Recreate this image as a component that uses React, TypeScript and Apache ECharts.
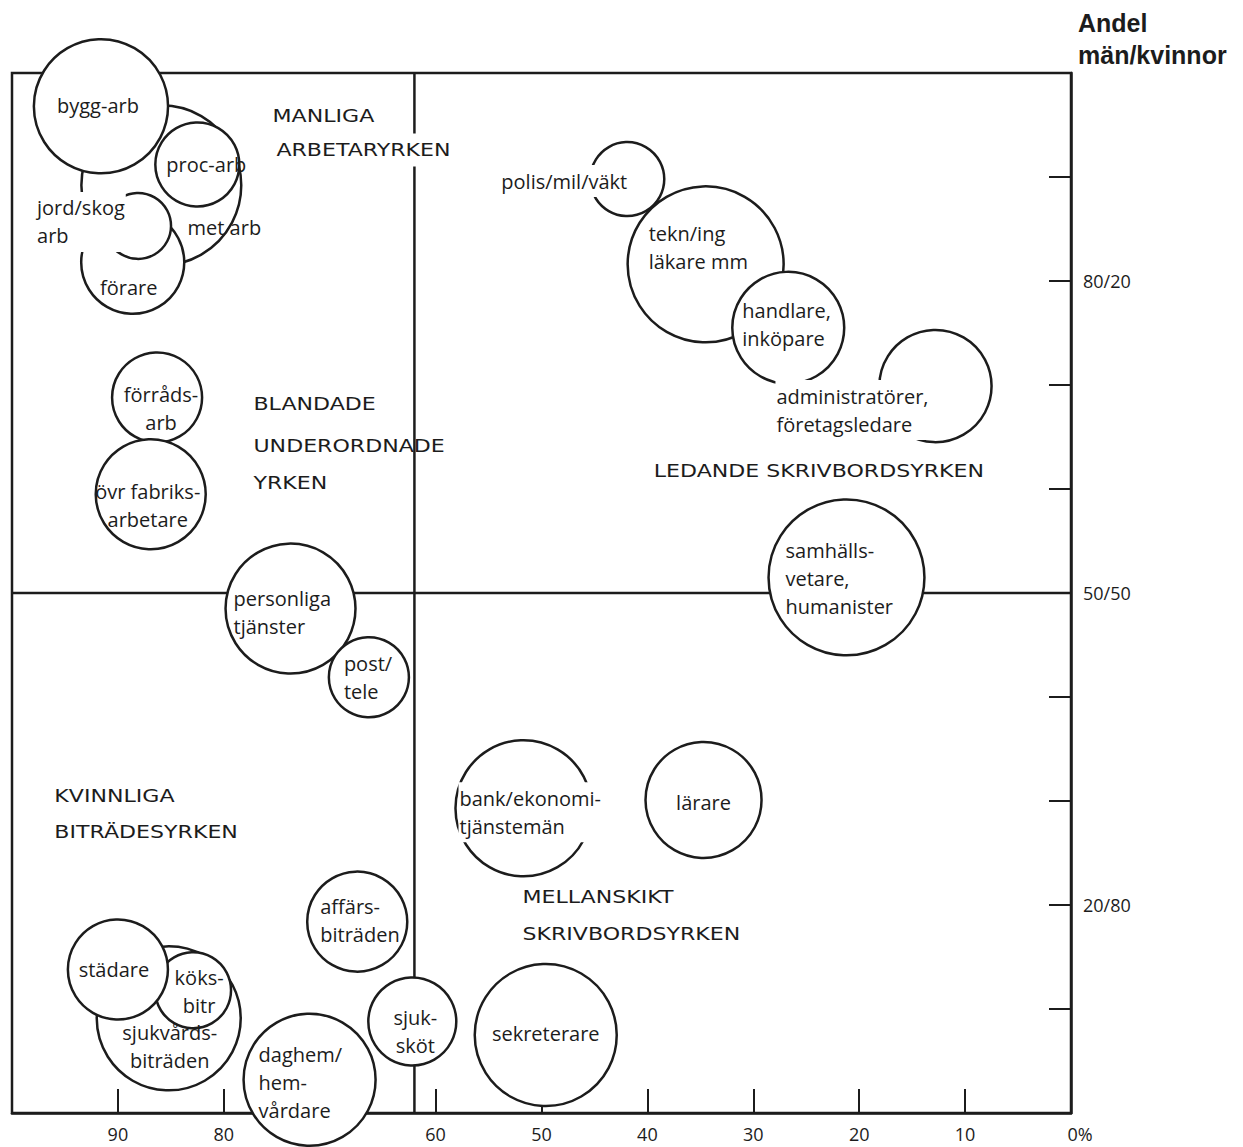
import React, { useEffect, useRef } from "react";
import * as echarts from "echarts";

// ---- Data ----
// x: horizontal scale (%), y: andel män (%), storlek: relative bubble size
const yrken = [
  "met arb",
  "förare",
  "jord/skog\narb",
  "proc-arb",
  "bygg-arb",
  "polis/mil/väkt",
  "tekn/ing\nläkare mm",
  "handlare,\ninköpare",
  "administratörer,\nföretagsledare",
  "samhälls-\nvetare,\nhumanister",
  "förråds-\narb",
  "övr fabriks-\narbetare",
  "personliga\ntjänster",
  "post/\ntele",
  "bank/ekonomi-\ntjänstemän",
  "lärare",
  "affärs-\nbiträden",
  "sjukvårds-\nbiträden",
  "köks-\nbitr",
  "städare",
  "daghem/\nhem-\nvårdare",
  "sjuk-\nsköt",
  "sekreterare",
];
const andelX = [85.9, 88.6, 88.1, 82.5, 91.6, 41.9, 34.5, 26.7, 12.8, 21.2, 86.3, 86.9, 73.7, 66.3, 51.7, 34.7, 67.4, 85.2, 82.9, 90.0, 71.9, 62.2, 49.6];
const andelMan = [89.2, 81.8, 85.3, 91.2, 96.8, 89.8, 81.6, 75.5, 69.9, 51.5, 68.8, 59.5, 48.5, 41.9, 29.3, 30.1, 18.4, 9.1, 11.8, 13.8, 3.2, 8.8, 7.5];
const storlek = [710, 295, 121, 196, 500, 152, 676, 348, 350, 675, 225, 336, 469, 178, 514, 374, 278, 576, 160, 278, 484, 215, 560];

// tick labels
const xTickLabels: Record<number, string> = { 90: "90", 80: "80", 60: "60", 50: "50", 40: "40", 30: "30", 20: "20", 10: "10", 0: "0%" };
const yTickLabels: Record<number, string> = { 80: "80/20", 50: "50/50", 20: "20/80" };

// quadrant dividers (data units)
const delningX = 62;
const delningY = 50;

// region captions, anchored in data units
const omradeText = ["MANLIGA", "ARBETARYRKEN", "BLANDADE", "UNDERORDNADE", "YRKEN", "LEDANDE SKRIVBORDSYRKEN", "KVINNLIGA", "BITRÄDESYRKEN", "MELLANSKIKT", "SKRIVBORDSYRKEN"];
const omradeX = [75.4, 75.4, 77.2, 77.2, 77.2, 39.4, 96.0, 96.0, 51.8, 51.8];
const omradeY = [95.8, 92.6, 68.1, 64.1, 60.5, 61.7, 30.4, 27.0, 20.7, 17.2];

// ---- Label styling (per bubble) ----
const labelAlign = ["center", "center", "left", "center", "center", "center", "left", "left", "left", "left", "center", "center", "left", "left", "left", "center", "left", "center", "center", "center", "left", "center", "center"];
const labelOffset: [number, number][] = [
  [63, 42], [-4, 25], [-102, -4], [9, 0], [-3, -1], [-63, 2], [-57, -17], [-46, -3], [-160, 24], [-61, 1],
  [4, 11], [-3, 11], [-57, 4], [-25, 0], [-65, 4], [0, 3], [-37, -1], [1, 28], [6, 1], [-4, 0], [-51, 3], [3, 10], [0, -2],
];
const labelBg = [false, false, true, false, false, true, false, false, true, false, false, false, false, false, true, false, false, false, false, false, false, false, false];

const INK = "#1c1c1c";

export default function App() {
  const ref = useRef<HTMLDivElement>(null);
  useEffect(() => {
    if (!ref.current) return;
    const chart = echarts.init(ref.current, null, { renderer: "svg" });

    const bubbles = yrken.map((n, i) => ({
      name: n,
      value: [andelX[i], andelMan[i], storlek[i]],
      label: {
        align: labelAlign[i],
        offset: labelOffset[i],
        backgroundColor: labelBg[i] ? "#ffffff" : "transparent",
        padding: labelBg[i] ? [2, 1] : 0,
      },
    }));

    const option: any = {
      animation: false,
      backgroundColor: "#ffffff",
      grid: { left: 12, right: 172, top: 73, bottom: 34, show: true, borderColor: INK, borderWidth: 2.5, backgroundColor: "transparent" },
      xAxis: {
        type: "value",
        min: 0,
        max: 100,
        interval: 10,
        inverse: true,
        position: "bottom",
        axisLine: { show: true, lineStyle: { color: INK, width: 2.5 } },
        axisTick: { show: true, inside: true, length: 24, lineStyle: { color: INK, width: 2 } },
        axisLabel: {
          formatter: (v: number) => (xTickLabels[v] !== undefined ? (v === 0 ? "{z|0%}" : xTickLabels[v]) : ""),
          fontFamily: "Open Sans",
          fontSize: 18,
          color: INK,
          margin: 12,
          rich: { z: { fontFamily: "Open Sans", fontSize: 18, color: INK, padding: [0, 0, 0, 18] } },
        },
        splitLine: { show: false },
      },
      yAxis: {
        type: "value",
        min: 0,
        max: 100,
        interval: 10,
        position: "right",
        name: "Andel\nmän/kvinnor",
        nameLocation: "end",
        nameGap: 2,
        nameTextStyle: {
          align: "left",
          verticalAlign: "bottom",
          fontFamily: "Liberation Sans",
          fontWeight: "bold",
          fontSize: 25,
          lineHeight: 32,
          color: INK,
          padding: [0, 0, 0, 7],
        },
        axisLine: { show: true, lineStyle: { color: INK, width: 2.5 } },
        axisTick: { show: true, inside: true, length: 22, lineStyle: { color: INK, width: 2 } },
        axisLabel: {
          formatter: (v: number) => yTickLabels[v] || "",
          fontFamily: "Open Sans",
          fontSize: 18,
          color: INK,
          margin: 12,
        },
        splitLine: { show: false },
      },
      series: [
        {
          type: "line",
          z: 1,
          silent: true,
          symbol: "none",
          data: [[delningX, 0], [delningX, 100]],
          lineStyle: { color: INK, width: 2.5 },
        },
        {
          type: "line",
          z: 1,
          silent: true,
          symbol: "none",
          data: [[100, delningY], [0, delningY]],
          lineStyle: { color: INK, width: 2.5 },
        },
        {
          type: "scatter",
          z: 2,
          clip: false,
          silent: true,
          symbol: "circle",
          symbolSize: (v: number[]) => Math.sqrt(v[2]) * 6,
          itemStyle: { color: "#ffffff", borderColor: INK, borderWidth: 2.5, opacity: 1 },
          emphasis: { disabled: true },
          label: {
            show: true,
            position: "inside",
            formatter: (p: any) => p.name,
            fontFamily: "Open Sans",
            fontSize: 20,
            lineHeight: 28,
            color: INK,
          },
          data: bubbles,
        },
      ],
    };
    chart.setOption(option);

    const graphics = omradeText.map((t, i) => {
      const [px, py] = chart.convertToPixel({ gridIndex: 0 }, [omradeX[i], omradeY[i]]) as number[];
      const withBg = t === "ARBETARYRKEN";
      return {
        type: "text",
        x: px,
        y: py,
        scaleX: 1.3,
        z: 10,
        silent: true,
        style: {
          text: t,
          fill: INK,
          font: '17px "DejaVu Sans"',
          textAlign: "left",
          textVerticalAlign: "middle",
          backgroundColor: withBg ? "#ffffff" : undefined,
          padding: withBg ? [8, 3] : undefined,
        },
      };
    });
    chart.setOption({ graphic: graphics });

    return () => chart.dispose();
  }, []);
  return <div ref={ref} style={{ position: "absolute", left: 0, top: 0, width: 1243, height: 1147 }} />;
}
